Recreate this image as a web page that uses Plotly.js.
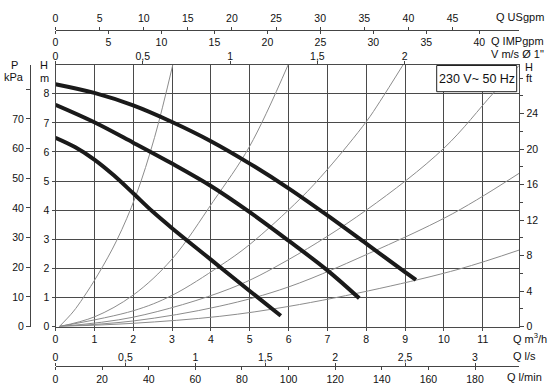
<!DOCTYPE html>
<html>
<head>
<meta charset="utf-8">
<script src="https://cdn.plot.ly/plotly-3.0.1.min.js"></script>
<style>html,body{margin:0;padding:0;background:#fff}#chart{width:550px;height:388px}</style>
</head>
<body>
<div id="chart"></div>
<script>
// ---- data ----
const qTicks = [0,1,2,3,4,5,6,7,8,9,10,11];
const hTicks = [0,1,2,3,4,5,6,7,8];
const pTicks = [0,10,20,30,40,50,60,70];
const pExtraTick = [80];
const ftTicks = [0,4,8,12,16,20,24];
const vTicks = [0,0.5,1,1.5,2];
const vLabels = ['0','0,5','1','1,5','2'];
const lsTicks = [0,0.5,1,1.5,2,2.5,3];
const lsLabels = ['0','0,5','1','1,5','2','2,5','3'];
const lminTicks = [0,20,40,60,80,100,120,140,160,180];
const usgpmTicks = [0,5,10,15,20,25,30,35,40,45];
const impgpmTicks = [0,5,10,15,20,25,30,35,40];

// pump curves (Q m3/h, H m)
const speed3Q = [0, 1, 2, 3, 4, 5, 6, 7, 8, 9, 9.28];
const speed3H = [8.33, 8.03, 7.6, 7.03, 6.37, 5.6, 4.75, 3.82, 2.85, 1.87, 1.6];
const speed2Q = [0, 1, 2, 3, 4, 5, 6, 7, 7.82];
const speed2H = [7.62, 7.02, 6.32, 5.6, 4.83, 3.93, 2.95, 1.93, 0.97];
const speed1Q = [0, 0.5, 1, 1.5, 2, 2.5, 3, 4, 5, 5.8];
const speed1H = [6.49, 6.17, 5.74, 5.2, 4.58, 3.95, 3.38, 2.3, 1.22, 0.37];

// system curves (thin)
const sysAQ = [0.1, 0.45, 0.72, 1.1, 1.58, 2.07, 2.55, 3.02];
const sysAH = [0, 0.5, 1.0, 1.8, 2.97, 4.5, 6.5, 9.0];
const sysBQ = [0.1, 1, 2, 3, 4.06, 5.0, 5.99];
const sysBH = [0, 0.33, 1.08, 2.32, 4.3, 6.2, 9.0];
const sysCQ = [0.1, 2, 3, 4.23, 5, 6.29, 7, 8, 8.35, 8.95];
const sysCH = [0, 0.54, 1.07, 2.08, 2.82, 4.38, 5.4, 7.04, 7.73, 9.0];
const sysDQ = [0.1, 2, 4.49, 6, 8, 10, 11.27, 11.94];
const sysDH = [0, 0.32, 1.3, 2.3, 4.0, 6.13, 8.02, 8.98];
const sysEQ = [0.1, 2, 4.23, 6, 8.35, 10, 10.84, 11.94];
const sysEH = [0, 0.19, 0.7, 1.36, 2.68, 3.72, 4.35, 5.27];
const sysFQ = [0.1, 2, 4.23, 6, 8.35, 10.41, 11.94];
const sysFH = [0, 0.11, 0.35, 0.69, 1.31, 1.98, 2.63];

const qMax = 11.94, hMax = 9;

// ---- layout helpers ----
const W = 550, H = 388;
const FONT = 'Liberation Sans, Arial, Helvetica, sans-serif';
const px = v => v / W;
const py = v => (H - v) / H;
const gridC = '#4a4a4a';
const tf = {family: FONT, size: 10.5, color: '#111'};
const ttf = {family: FONT, size: 11, color: '#111'};

const traces = [];
function sys(q, h) {
  traces.push({x: q, y: h, type: 'scatter', mode: 'lines', xaxis: 'x', yaxis: 'y',
    line: {color: '#8c8c8c', width: 1, shape: 'spline', smoothing: 1}, hoverinfo: 'skip', showlegend: false});
}
sys(sysAQ, sysAH); sys(sysBQ, sysBH); sys(sysCQ, sysCH);
sys(sysDQ, sysDH); sys(sysEQ, sysEH); sys(sysFQ, sysFH);
function pump(q, h) {
  traces.push({x: q, y: h, type: 'scatter', mode: 'lines', xaxis: 'x', yaxis: 'y',
    line: {color: '#1a1a1a', width: 4, shape: 'spline', smoothing: 1}, hoverinfo: 'skip', showlegend: false});
}
pump(speed3Q, speed3H); pump(speed2Q, speed2H); pump(speed1Q, speed1H);
// dummies so that every axis is drawn
[['x2','y'],['x3','y'],['x4','y'],['x5','y'],['x6','y'],['x','y2'],['x','y3']].forEach(p => {
  traces.push({x: [null], y: [null], type: 'scatter', mode: 'lines', xaxis: p[0], yaxis: p[1], showlegend: false, hoverinfo: 'skip'});
});

const xDom = [px(55.5), px(519.3)];
const yDom = [py(326.5), py(64.7)];

function ann(text, x, y, anchor, font) {
  return {text: text, xref: 'paper', yref: 'paper', x: px(x), y: py(y), xanchor: anchor, yanchor: 'middle',
    showarrow: false, font: font || ttf};
}

const layout = {
  width: W, height: H,
  margin: {l: 0, r: 0, t: 0, b: 0},
  paper_bgcolor: '#fff', plot_bgcolor: '#fff',
  showlegend: false,
  font: tf,
  xaxis: {domain: xDom, range: [0, qMax], tickvals: qTicks, ticks: 'outside', ticklen: 3, tickcolor: gridC,
    showgrid: true, gridcolor: gridC, gridwidth: 1, showline: true, linecolor: gridC, linewidth: 1,
    mirror: true, zeroline: false, tickfont: tf, fixedrange: true},
  yaxis: {domain: yDom, range: [0, hMax], tickvals: hTicks, ticks: 'outside', ticklen: 3, tickcolor: gridC,
    showgrid: true, gridcolor: gridC, gridwidth: 1, showline: true, linecolor: gridC, linewidth: 1,
    mirror: true, zeroline: false, tickfont: tf, fixedrange: true},
  yaxis2: {overlaying: 'y', side: 'right', range: [0, hMax / 0.3048], tickvals: ftTicks, ticks: 'outside',
    ticklen: 4, tickcolor: '#444', showgrid: false, zeroline: false, showline: false, tickfont: tf,
    minor: {dtick: 2, tick0: 0, ticks: 'outside', ticklen: 3, tickcolor: '#444', showgrid: false}},
  yaxis3: {overlaying: 'y', anchor: 'free', position: px(30), side: 'left', range: [0, hMax * 9.80665],
    tickvals: pTicks, ticks: 'outside', ticklen: 4, tickcolor: '#444',
    minor: {tickvals: pExtraTick, ticks: 'outside', ticklen: 4, tickcolor: '#444', showgrid: false},
    showline: true, linecolor: '#444', linewidth: 1, showgrid: false, zeroline: false, tickfont: tf},
  xaxis2: {overlaying: 'x', side: 'top', anchor: 'y', range: [0, qMax / 4.494], tickvals: vTicks, ticktext: vLabels,
    ticks: 'outside', ticklen: 3, tickcolor: '#444', showgrid: false, zeroline: false, showline: false, tickfont: tf,
    ticklabelstandoff: -3},
  xaxis3: {overlaying: 'x', side: 'top', anchor: 'free', position: py(29.5), range: [0, qMax * 4.4029],
    tickvals: usgpmTicks, ticks: 'outside', ticklen: 3, tickcolor: '#444', showline: true, linecolor: '#444',
    linewidth: 1, showgrid: false, zeroline: false, tickfont: tf},
  xaxis4: {overlaying: 'x', side: 'bottom', anchor: 'free', position: py(29.5), range: [0, qMax * 3.6662],
    tickvals: impgpmTicks, ticks: 'outside', ticklen: 3, tickcolor: '#444', showline: false,
    showgrid: false, zeroline: false, tickfont: tf},
  xaxis5: {overlaying: 'x', side: 'top', anchor: 'free', position: py(366), range: [0, qMax / 3.6],
    tickvals: lsTicks, ticktext: lsLabels, ticks: 'outside', ticklen: 3, tickcolor: '#444', showline: true,
    linecolor: '#444', linewidth: 1, showgrid: false, zeroline: false, tickfont: tf, ticklabelstandoff: -2},
  xaxis6: {overlaying: 'x', side: 'bottom', anchor: 'free', position: py(366), range: [0, qMax * 1000 / 60],
    tickvals: lminTicks, ticks: 'outside', ticklen: 3, tickcolor: '#444', showline: false,
    showgrid: false, zeroline: false, tickfont: tf},
  shapes: [
    {type: 'rect', xref: 'paper', yref: 'paper', x0: px(436.7), x1: px(516.7), y0: py(91.7), y1: py(65.5),
      fillcolor: '#fff', line: {color: '#222', width: 1}, layer: 'above'}
  ],
  annotations: [
    ann('Q USgpm', 546, 17, 'right'),
    ann('Q IMPgpm', 546, 41, 'right'),
    ann('V m/s Ø 1"', 546, 54, 'right'),
    ann('Q m<sup>3</sup>/h', 511, 338, 'left'),
    ann('Q l/s', 511, 356, 'left'),
    ann('Q l/min', 505, 377, 'left'),
    ann('P', 14, 65, 'center'),
    ann('kPa', 14, 77, 'center'),
    ann('H', 44, 65, 'center'),
    ann('m', 44, 78, 'center'),
    ann('H', 529, 67, 'center'),
    ann('ft', 529, 78, 'center'),
    ann('230 V~ 50 Hz', 476.7, 78.6, 'center', {family: FONT, size: 12.5, color: '#111'})
  ]
};

Plotly.newPlot('chart', traces, layout, {staticPlot: true, displayModeBar: false});
</script>
</body>
</html>
